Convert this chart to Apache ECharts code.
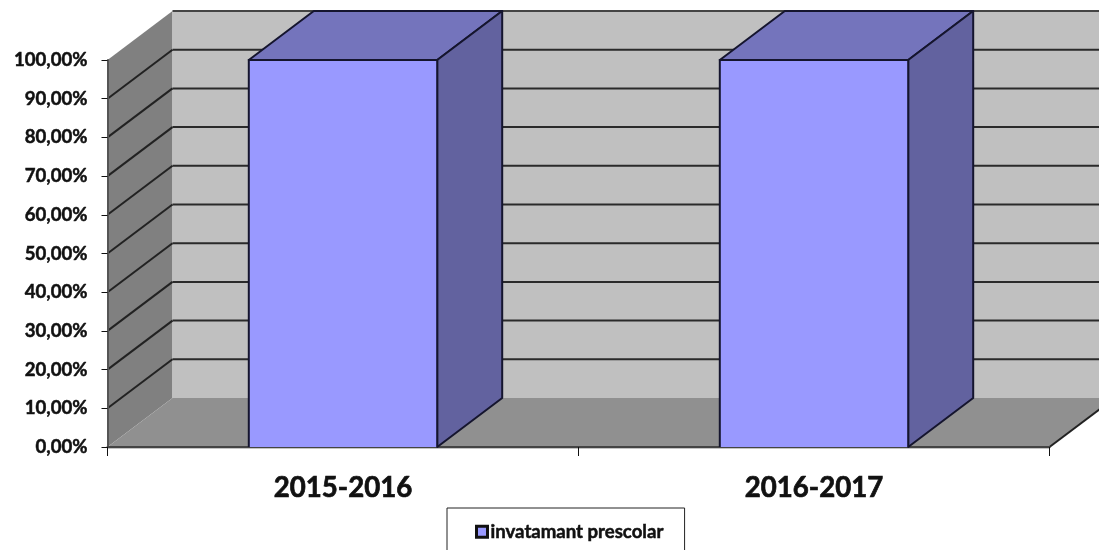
<!DOCTYPE html>
<html><head><meta charset="utf-8">
<style>html,body{margin:0;padding:0;background:#fff}#c{width:1099px;height:550px;filter:blur(0.45px)}</style>
<script src="https://cdn.jsdelivr.net/npm/echarts@6/dist/echarts.min.js"></script>
</head><body><div id="c"></div>
<script>
const categories = ['2015-2016', '2016-2017'];
const seriesName = 'invatamant prescolar';
const values = [100, 100];
const gridTicks = [10, 20, 30, 40, 50, 60, 70, 80, 90];
const backOnlyTicks = [100];

const DX = 65, DY = 49, BAR_RATIO = 0.4;
const chart = echarts.init(document.getElementById('c'));
const poly = (pts, fill, z2, stroke, lw) => ({
  type: 'polygon', z2: z2 || 0, shape: { points: pts },
  style: { fill, stroke: stroke || null, lineWidth: lw || 0, lineJoin: 'round' }
});
const line = (a, b, stroke, lw, z2) => ({
  type: 'line', z2: z2 || 1, shape: { x1: a[0], y1: a[1], x2: b[0], y2: b[1] },
  style: { stroke, lineWidth: lw }
});
chart.setOption({
  animation: false,
  backgroundColor: '#fff',
  textStyle: { fontFamily: 'Lato' },
  grid: { left: 107.5, top: 60, width: 942, height: 387, containLabel: false },
  legend: {
    data: [seriesName], left: 447, top: 508, orient: 'horizontal',
    padding: [14, 21, 40, 28], itemGap: 0, itemWidth: 11, itemHeight: 11,
    borderColor: '#222', borderWidth: 1, backgroundColor: '#fff',
    icon: 'rect',
    itemStyle: { color: '#9999ff', borderColor: '#111', borderWidth: 3 },
    textStyle: { fontFamily: 'Lato', fontWeight: 'bold', fontSize: 18.6, color: '#111', textBorderColor: '#111', textBorderWidth: 0.5, padding: [0, 0, 0, -2] }
  },
  xAxis: {
    type: 'category', data: categories, boundaryGap: true, z: 2,
    axisLine: { show: true, lineStyle: { color: '#444', width: 2 } },
    axisTick: { show: true, alignWithLabel: false, length: 9, lineStyle: { color: '#111', width: 1 } },
    axisLabel: { fontFamily: 'Lato', fontWeight: 'bold', fontSize: 27.6, color: '#111', textBorderColor: '#111', textBorderWidth: 0.7, margin: 27 },
    splitLine: { show: false }
  },
  yAxis: {
    type: 'value', min: 0, max: 100, interval: 10, z: 2,
    axisLine: { show: true, lineStyle: { color: '#555', width: 2 } },
    axisTick: { show: true, length: 6, lineStyle: { color: '#111', width: 1 } },
    axisLabel: {
      fontFamily: 'Lato', fontWeight: 'bold', fontSize: 18.6, color: '#111', textBorderColor: '#111', textBorderWidth: 0.5, margin: 20,
      formatter: v => v + ',00%'
    },
    splitLine: { show: false }
  },
  series: [
    {
      name: 'walls', type: 'custom', silent: true, z: 1, data: [[0, 0]],
      renderItem(params, api) {
        const c = params.coordSys, x0 = c.x, x1 = c.x + c.width, b = c.y + c.height, t = c.y;
        return { type: 'group', children: [
          poly([[x0, t], [x0 + DX, t - DY], [x0 + DX, b - DY], [x0, b]], '#808080'),
          poly([[x0 + DX, t - DY], [x1 + DX, t - DY], [x1 + DX, b - DY], [x0 + DX, b - DY]], '#c0c0c0'),
          poly([[x0, b], [x0 + DX, b - DY], [x1 + DX, b - DY], [x1, b]], '#909090'),
          line([x1, b], [x1 + DX, b - DY], '#222', 2, 2),
          line([x0, b + 1.5], [x1, b + 1.5], '#c4c4c4', 1, 2)
        ] };
      }
    },
    {
      name: 'grid', type: 'custom', silent: true, z: 1.5, data: gridTicks.map(v => [0, v]),
      renderItem(params, api) {
        const c = params.coordSys, p = api.coord([0, api.value(1)]), y = p[1];
        return { type: 'group', children: [
          line([c.x, y], [c.x + DX, y - DY], '#222', 2),
          line([c.x + DX, y - DY], [c.x + c.width + DX, y - DY], '#2a2a2a', 2)
        ] };
      }
    },
    {
      name: 'gridTop', type: 'custom', silent: true, z: 1.5, data: backOnlyTicks.map(v => [0, v]),
      renderItem(params, api) {
        const c = params.coordSys, y = api.coord([0, api.value(1)])[1];
        return line([c.x + DX, y - DY], [c.x + c.width + DX, y - DY], '#444', 2);
      }
    },
    {
      name: seriesName, type: 'custom', z: 3, clip: false,
      itemStyle: { color: '#9999ff', borderColor: '#111', borderWidth: 3 },
      data: values.map((v, i) => [i, v]),
      encode: { x: 0, y: 1 },
      renderItem(params, api) {
        const i = api.value(0), top = api.coord([i, api.value(1)]), base = api.coord([i, 0]);
        const w = api.size([1, 0])[0] * BAR_RATIO;
        const l = top[0] - w / 2, r = top[0] + w / 2, t = top[1], b = base[1];
        const s = '#15152e';
        return { type: 'group', children: [
          poly([[l, t], [r, t], [r + DX, t - DY], [l + DX, t - DY]], '#7474bc', 1, s, 2),
          poly([[r, t], [r + DX, t - DY], [r + DX, b - DY], [r, b]], '#62629f', 1, s, 2),
          poly([[l, t], [r, t], [r, b], [l, b]], '#9999ff', 2),
          { type: 'polyline', z2: 3, shape: { points: [[l, b], [l, t], [r, t], [r, b]] },
            style: { fill: null, stroke: s, lineWidth: 2 } }
        ] };
      }
    }
  ]
});
</script></body></html>
